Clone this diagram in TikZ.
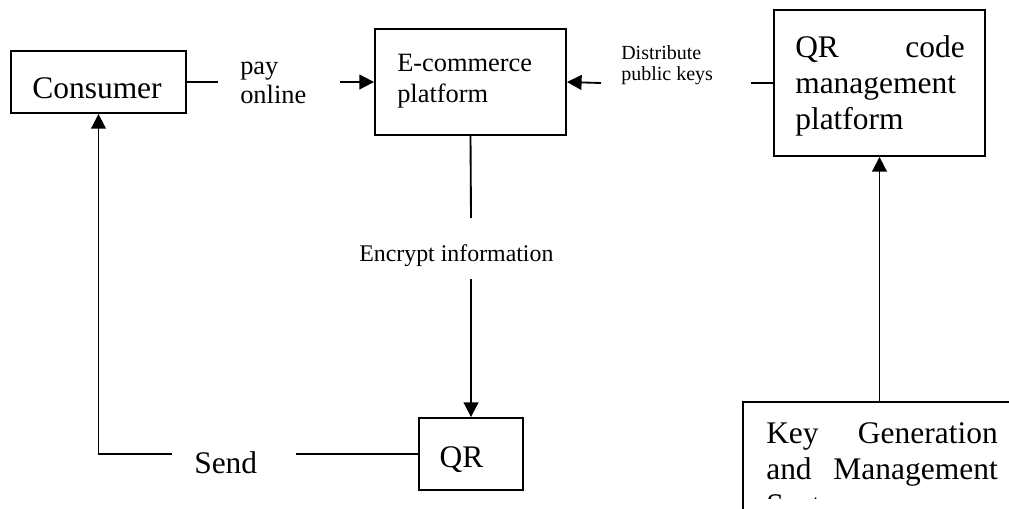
\documentclass[tikz,border=0pt]{standalone}
\usepackage{fontspec}
\setmainfont{Liberation Serif}
\usetikzlibrary{arrows.meta}
\begin{document}
\begin{tikzpicture}[x=0.75pt,y=-0.75pt,
  box/.style={draw,line width=1.4pt,rectangle,inner sep=0pt},
  conn/.style={line width=1.4pt},
  arr/.style={line width=1.4pt,-{Triangle[length=11pt,width=11pt]}},
  txt/.style={inner sep=0pt},
  big/.style={txt,font=\fontsize{23.6pt}{28pt}\selectfont},
  mid/.style={txt,font=\fontsize{19.8pt}{24pt}\selectfont},
  enc/.style={txt,font=\fontsize{17.9pt}{22pt}\selectfont},
  small/.style={txt,font=\fontsize{15pt}{18pt}\selectfont}]
\useasboundingbox (0,0) rectangle (1009,509);
\clip (0,0) rectangle (1009,509);

% boxes
\node[box,minimum width=131.25pt,minimum height=46.5pt] (consumer) at (98.5,82) {};
\node[box,minimum width=143.25pt,minimum height=79.5pt] (ecom) at (470.5,82) {};
\node[box,minimum width=78pt,minimum height=54pt] (qr) at (471,454) {};
\node[box,minimum width=158.25pt,minimum height=109.5pt] (qrm) at (879.5,83) {};
\node[box,minimum width=210pt,minimum height=118.5pt] (keygen) at (883,481) {};

% box texts
\node[big,anchor=base] (tconsumer) at (97,99) {Consumer};
\node[mid,anchor=base west] (tecom1) at (397,72) {E-commerce};
\node[mid,anchor=base west] (tecom2) at (397,103) {platform};
\node[big,anchor=base] (tqr) at (461.5,467) {QR};
\node[big,anchor=base west] (tqrm1) at (795,58) {QR};
\node[big,anchor=base east] (tqrm2) at (965,58) {code};
\node[big,anchor=base west] (tqrm3) at (795,94) {management};
\node[big,anchor=base west] (tqrm4) at (795,130) {platform};
\node[big,anchor=base west] (tkey1) at (766,443) {Key};
\node[big,anchor=base east] (tkey2) at (998,443) {Generation};
\node[big,anchor=base west] (tkey3) at (766,479) {and};
\node[big,anchor=base east] (tkey4) at (998,479) {Management};
% the third line of the text box is cut by the box's inner margin
\begin{scope}
  \clip (743,400) rectangle (1009,498);
  \node[big,anchor=base west] (tkey5) at (766,515) {System};
\end{scope}

% connector labels
\node[mid,anchor=base west] (lpay1) at (240,75) {pay};
\node[mid,anchor=base west] (lpay2) at (240,104) {online};
\node[small,anchor=base west] (ldist1) at (621,60) {Distribute};
\node[small,anchor=base west] (ldist2) at (621,81) {public keys};
\node[enc,anchor=base west] (lenc) at (359,262) {Encrypt information};
\node[big,anchor=base west] (lsend) at (194,473) {Send};

% free ends of the broken connectors
\coordinate (payA) at (218,82);
\coordinate (payB) at (340,82);
\coordinate (distA) at (751,83);
\coordinate (distB) at (601,83);
\coordinate (encA) at (471,218);
\coordinate (encB) at (471,279);
\coordinate (sendA) at (296,454);
\coordinate (sendB) at (172,454);

% connectors
\draw[conn] (consumer.east) -- (payA);
\draw[arr] (payB) -- (ecom.west);
\draw[conn] (qrm.west) -- (distA);
\draw[arr] (distB) -- (ecom.east);
\draw[conn] (ecom.south) -- (encA);
\draw[arr] (encB) -- (qr.north);
\draw[conn] (qr.west) -- (sendA);
\draw[arr] (sendB) -- (consumer.south |- sendB) -- (consumer.south);
\draw[arr] (qrm.south |- keygen.north) -- (qrm.south);
\end{tikzpicture}
\end{document}
